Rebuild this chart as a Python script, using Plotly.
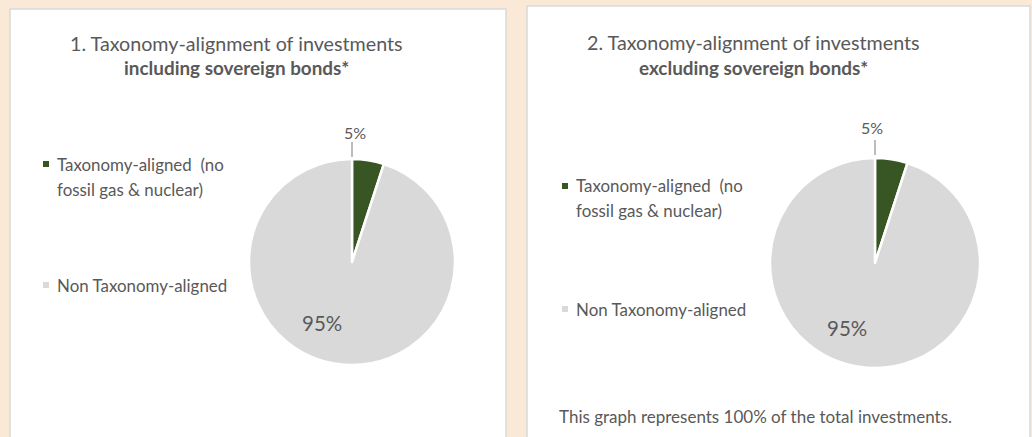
import plotly.graph_objects as go

W, H = 1032, 437

# ---- data ----
categories = ["Taxonomy-aligned  (no fossil gas & nuclear)", "Non Taxonomy-aligned"]
legend_lines = [["Taxonomy-aligned  (no", "fossil gas & nuclear)"], ["Non Taxonomy-aligned"]]
incl_values = [5, 95]
excl_values = [5, 95]
title_line1 = ["1. Taxonomy-alignment of investments", "2. Taxonomy-alignment of investments"]
title_line2 = ["including sovereign bonds*", "excluding sovereign bonds*"]
footnote = "This graph represents 100% of the total investments."

# ---- style ----
colors = ["#375623", "#D9D9D9"]
bg = "#FBE9D8"
txt = "#595959"
FONT = "Lato"


def px(x):
    return x / W


def py(y):
    return 1 - y / H


# panel layouts (pixels)
panels = [
    dict(box=(10, 9, 506, 445), cx=352, cy=262, r=103, tx=236, ty1=43, ty2=68,
         leg_sq_x=46, leg_tx=55, leg_y=[[164, 189], [285]],
         lbl_small=(355, 132), lead=(142, 157), lbl_big=(322, 323), values=incl_values),
    dict(box=(527, 6, 1030, 445), cx=875, cy=263, r=105, tx=753, ty1=42, ty2=67,
         leg_sq_x=565, leg_tx=574, leg_y=[[186, 210], [309]],
         lbl_small=(872, 127), lead=(140, 155), lbl_big=(847, 328), values=excl_values),
]

fig = go.Figure()
shapes = []
annotations = []

for i, p in enumerate(panels):
    x0, y0, x1, y1 = p["box"]
    shapes.append(dict(type="rect", xref="paper", yref="paper",
                       x0=px(x0), x1=px(x1), y0=py(y1), y1=py(y0),
                       fillcolor="white", line=dict(color="#D9D9D9", width=1.5), layer="below"))
    cx, cy, r = p["cx"], p["cy"], p["r"]
    fig.add_trace(go.Pie(
        labels=categories, values=p["values"], sort=False, direction="clockwise", rotation=0,
        marker=dict(colors=colors, line=dict(color="white", width=2.5)),
        textinfo="none", hoverinfo="label+percent", showlegend=False,
        domain=dict(x=[px(cx - r), px(cx + r)], y=[py(cy + r), py(cy - r)]),
    ))
    # titles
    annotations.append(dict(text=title_line1[i], x=px(p["tx"]), y=py(p["ty1"]), xref="paper", yref="paper",
                            showarrow=False, xanchor="center", yanchor="middle",
                            font=dict(family=FONT, size=19.7, color=txt)))
    annotations.append(dict(text="<b>" + title_line2[i] + "</b>", x=px(p["tx"]), y=py(p["ty2"]),
                            xref="paper", yref="paper", showarrow=False, xanchor="center", yanchor="middle",
                            font=dict(family=FONT, size=18.9, color=txt)))
    # legend
    for k, lines in enumerate(legend_lines):
        ys = p["leg_y"][k]
        sq = 3
        shapes.append(dict(type="rect", xref="paper", yref="paper",
                           x0=px(p["leg_sq_x"] - sq), x1=px(p["leg_sq_x"] + sq),
                           y0=py(ys[0] + sq), y1=py(ys[0] - sq),
                           fillcolor=colors[k], line=dict(width=0)))
        for line, yy in zip(lines, ys):
            annotations.append(dict(text=line, x=px(p["leg_tx"]), y=py(yy), xref="paper", yref="paper",
                                    showarrow=False, xanchor="left", yanchor="middle",
                                    font=dict(family=FONT, size=16.9, color=txt)))
    # data labels
    sx, sy = p["lbl_small"]
    annotations.append(dict(text=f"{p['values'][0]}%", x=px(sx), y=py(sy), xref="paper", yref="paper",
                            showarrow=False, xanchor="center", yanchor="middle",
                            font=dict(family=FONT, size=16, color=txt)))
    shapes.append(dict(type="line", xref="paper", yref="paper",
                       x0=px(cx), x1=px(cx), y0=py(p["lead"][0]), y1=py(p["lead"][1]),
                       line=dict(color="#A6A6A6", width=1.5)))
    bx, by = p["lbl_big"]
    annotations.append(dict(text=f"{p['values'][1]}%", x=px(bx), y=py(by), xref="paper", yref="paper",
                            showarrow=False, xanchor="center", yanchor="middle",
                            font=dict(family=FONT, size=20.5, color=txt)))

annotations.append(dict(text=footnote, x=px(557), y=py(416), xref="paper", yref="paper",
                        showarrow=False, xanchor="left", yanchor="middle",
                        font=dict(family=FONT, size=17, color=txt)))

fig.update_layout(
    width=W, height=H, margin=dict(l=0, r=0, t=0, b=0),
    paper_bgcolor=bg, plot_bgcolor=bg,
    shapes=shapes, annotations=annotations, showlegend=False,
)

fig.write_html("out.html", config={"displayModeBar": False},
               post_script="document.body.style.margin='0';document.body.style.overflow='hidden';")
